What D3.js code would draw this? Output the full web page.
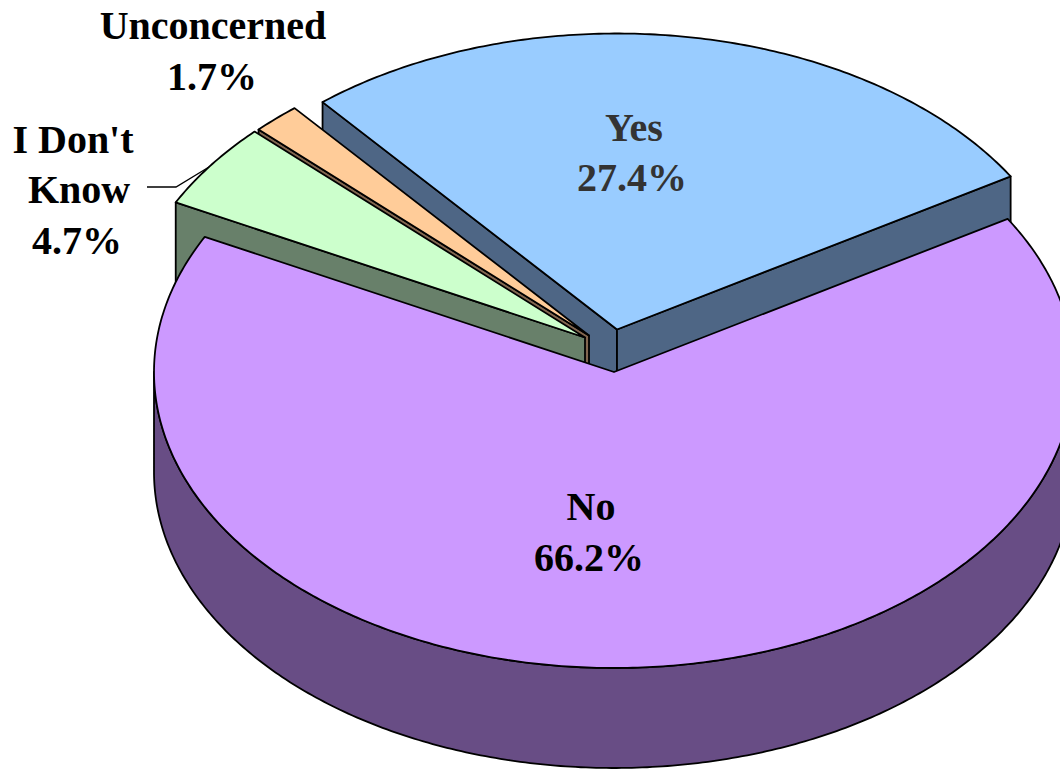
<!DOCTYPE html>
<html>
<head>
<meta charset="utf-8">
<script src="https://cdn.jsdelivr.net/npm/d3@7/dist/d3.min.js"></script>
<style>
html,body{margin:0;padding:0;background:#fff;overflow:hidden}
svg{display:block}
text{font-family:"Liberation Serif",serif;font-weight:700;font-size:40px;text-anchor:middle}
</style>
</head>
<body>
<svg id="chart" width="1060" height="769"></svg>
<script>
const categories = ["Yes", "No", "I Don't Know", "Unconcerned"];
const shares = [27.4, 66.2, 4.7, 1.7];
const shareLabels = ["27.4%", "66.2%", "4.7%", "1.7%"];

// Presentation
const topColors = ["#99ccff", "#cc99ff", "#ccffcc", "#ffcc99"];
const W = 1060, H = 769, RX = 460, RY = 296, DEPTH = 100;
const START = -39.8 * Math.PI / 180;
const apexes = [[617, 329.5], [614, 372], [585, 337.5], [589, 335.5]];
const drawOrder = [0, 3, 2, 1];
const labelLines = [
  [["Yes", 634, 141], [shareLabels[0], 632, 191]],
  [["No", 591, 520], [shareLabels[1], 589, 571]],
  [["I Don't", 73, 153], ["Know", 79, 203], [shareLabels[2], 77, 254]],
  [["Unconcerned", 213, 39], [shareLabels[3], 212, 90]]
];
const labelColors = ["#333333", "#000000", "#000000", "#000000"];

const svg = d3.select("#chart");
const arcs = d3.pie().sort(null).startAngle(START).endAngle(START + 2 * Math.PI)(shares);

const ux = d3.scaleLinear().domain([-1, 1]).range([-RX, RX]);
const uy = d3.scaleLinear().domain([-1, 1]).range([-RY, RY]);
const pt = (apex, a, dz = 0) => [apex[0] + ux(Math.sin(a)), apex[1] - uy(Math.cos(a)) + dz];
const sample = (a0, a1) => {
  const n = Math.max(2, Math.ceil(Math.abs(a1 - a0) * 90));
  return d3.range(n + 1).map(i => a0 + (a1 - a0) * i / n);
};
const line = d3.line();
const dark = c => { const r = d3.rgb(c); return d3.rgb(r.r * 0.51, r.g * 0.5, r.b * 0.52).formatHex(); };

const common = s => s.attr("stroke", "#000").attr("stroke-width", 1.8).attr("stroke-linejoin", "round");

drawOrder.forEach(i => {
  const d = arcs[i], apex = apexes[i], g = svg.append("g").attr("class", "slice");
  const side = dark(topColors[i]);
  const wall = a => g.append("path")
    .attr("d", line([[apex[0], apex[1]], pt(apex, a), pt(apex, a, DEPTH), [apex[0], apex[1] + DEPTH]]) + "Z")
    .attr("fill", side).call(common);
  if (Math.sin(d.startAngle) < 0) wall(d.startAngle);
  if (Math.sin(d.endAngle) > 0) wall(d.endAngle);
  // visible rim: the part of the arc that faces the viewer (90° to 270° from top)
  const lo = Math.max(d.startAngle, Math.PI / 2), hi = Math.min(d.endAngle, 3 * Math.PI / 2);
  if (hi > lo) {
    const s = sample(lo, hi);
    const poly = s.map(a => pt(apex, a)).concat(s.slice().reverse().map(a => pt(apex, a, DEPTH)));
    g.append("path").attr("d", line(poly) + "Z").attr("fill", side).call(common);
  }
  const top = [[apex[0], apex[1]]].concat(sample(d.startAngle, d.endAngle).map(a => pt(apex, a)));
  g.append("path").attr("d", line(top) + "Z").attr("fill", topColors[i]).call(common);
});

// leader line for the "I Don't Know" label
const leader = [[147, 187], [176, 187], [209, 167]];
svg.append("path").attr("d", line(leader)).attr("fill", "none").attr("stroke", "#000").attr("stroke-width", 1.3);

labelLines.forEach((lines, i) => {
  const t = svg.append("g").attr("fill", labelColors[i]);
  lines.forEach(l => t.append("text").attr("x", l[1]).attr("y", l[2]).text(l[0]));
});
</script>
</body>
</html>
